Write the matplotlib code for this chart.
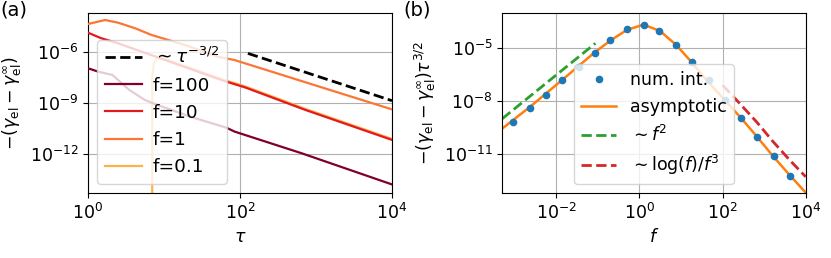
import matplotlib
matplotlib.use('Agg')
import matplotlib.pyplot as plt
import matplotlib.ticker as mticker
import numpy as np

plt.rcParams['font.size'] = 12.5

# ---------------------------------------------------------------------------
# panel (a): decay in tau for several f
tau_100 = [1.0, 1.37, 2.1, 3.5, 5.6, 7.2, 22, 66, 85, 650, 10000]
g_100 = [1.15e-7, 7.2e-8, 4.6e-8, 6.0e-9, 1.55e-9, 9.8e-10, 1.6e-10, 3.6e-11,
         2.1e-11, 1.1e-12, 1.6e-14]

tau_10 = [1.0, 1.48, 2.45, 11, 63, 117, 725, 10000]
g_10 = [1.45e-5, 6.9e-6, 3.5e-6, 3.2e-7, 2.0e-8, 8.5e-9, 4.0e-10, 6.8e-12]

tau_1 = [1.0, 1.68, 2.5, 4.2, 6.9, 19, 51, 85, 10000]
g_1 = [4.7e-5, 8.1e-5, 5.6e-5, 2.6e-5, 1.05e-5, 2.7e-6, 5.5e-7, 3.5e-7, 4.3e-10]

# f=0.1 is negative below tau ~ 7 (clipped on the log axis)
tau_01 = [1.0, 3.0, 6.8, 7.0, 7.3, 8.0, 11, 63, 117, 725, 10000]
g_01 = [-5e-6, -2e-6, -2e-8, 3.0e-8, 2.0e-7, 5.0e-7, 3.6e-7, 2.3e-8, 9.8e-9,
        4.6e-10, 7.8e-12]

tau_ref = [127, 10000]
g_ref = [8.7e-7, 1.4e-9]

# ---------------------------------------------------------------------------
# panel (b): prefactor vs f
f_num = [9.1e-4, 2.3e-3, 5.5e-3, 1.38e-2, 3.5e-2, 8.3e-2, 0.2, 0.51, 1.26, 3.0,
         7.6, 18.6, 47, 115, 275, 690, 1700, 4200]
y_num = [6.5e-10, 4.0e-9, 2.3e-8, 1.5e-7, 9.1e-7, 5.5e-6, 3.1e-5, 1.26e-4,
         2.2e-4, 9.1e-5, 1.55e-5, 1.6e-6, 1.55e-7, 1.2e-8, 1.15e-9, 9.1e-11,
         7.4e-12, 5.8e-13]

f_asy = [5e-4, 2.4e-3, 1.38e-2, 7.9e-2, 0.2, 0.5, 1.26, 3.16, 7.6, 16.6, 41.7,
         105, 275, 660, 1660, 4170, 10000]
y_asy = [2.75e-10, 5.0e-9, 1.58e-7, 5.2e-6, 2.75e-5, 1.1e-4, 2.2e-4, 9.3e-5,
         1.55e-5, 2.0e-6, 1.48e-7, 1.38e-8, 1.12e-9, 1.0e-10, 7.1e-12, 6.0e-13,
         6.3e-14]

f_small = [5e-4, 0.087]
y_small = [1.0e-9, 1.9e-5]

f_large = [100, 220, 660, 1660, 4170, 10000]
y_large = [7.9e-8, 1.1e-8, 6.5e-10, 4.8e-11, 4.3e-12, 5.0e-13]

# ---------------------------------------------------------------------------
W, H = 831, 258
fig = plt.figure(figsize=(W / 100, H / 100), dpi=100)
ax1 = fig.add_axes([88 / W, 1 - 193 / H, 304 / W, 180 / H])
ax2 = fig.add_axes([502.3 / W, 1 - 193 / H, 303.4 / W, 180 / H])

l_ref, = ax1.plot(tau_ref, g_ref, '--', color='black', lw=2)
l100, = ax1.plot(tau_100, g_100, color='#800026', lw=1.6, zorder=3)
l10, = ax1.plot(tau_10, g_10, color='#e31a1c', lw=1.6, zorder=3)
l1, = ax1.plot(tau_1, g_1, color='#fc7535', lw=1.6, zorder=3)
l01, = ax1.plot(tau_01, g_01, color='#feb24c', lw=1.6, zorder=2.5)
ax1.set_xscale('log')
ax1.set_yscale('log')
ax1.set_xlim(1, 1e4)
ax1.set_ylim(5e-15, 2.1e-4)
ax1.set_xticks([1, 1e2, 1e4])
ax1.set_yticks([1e-12, 1e-9, 1e-6])
ax1.xaxis.set_minor_locator(mticker.NullLocator())
ax1.yaxis.set_minor_locator(mticker.NullLocator())
ax1.grid(True)
ax1.set_xlabel(r'$\tau$')
ax1.set_ylabel(r'$-(\gamma_{\rm el}-\gamma_{\rm el}^{\infty})$')
ax1.legend([l_ref, l100, l10, l1, l01],
           [r'$\sim\tau^{-3/2}$', 'f=100', 'f=10', 'f=1', 'f=0.1'],
           loc='lower left', fontsize=13.3, handletextpad=0.6)

ax2.plot(f_num, y_num, 'o', color='C0', ms=4.5, label='num. int.', zorder=3)
ax2.plot(f_asy, y_asy, '-', color='C1', lw=1.8, label='asymptotic', zorder=2)
ax2.plot(f_small, y_small, '--', color='C2', lw=2, label=r'$\sim f^2$')
ax2.plot(f_large, y_large, '--', color='C3', lw=2, label=r'$\sim\log(f)/f^3$')
ax2.set_xscale('log')
ax2.set_yscale('log')
ax2.set_xlim(5e-4, 1e4)
ax2.set_ylim(6e-14, 1e-3)
ax2.set_xticks([1e-2, 1, 1e2, 1e4])
ax2.set_yticks([1e-11, 1e-8, 1e-5])
ax2.xaxis.set_minor_locator(mticker.NullLocator())
ax2.yaxis.set_minor_locator(mticker.NullLocator())
ax2.grid(True)
ax2.set_xlabel(r'$f$')
ax2.set_ylabel(r'$-(\gamma_{\rm el}-\gamma_{\rm el}^{\infty})\tau^{3/2}$')
ax2.legend(loc='lower center')

fig.text(0.0, 1 - 1 / H, '(a)', va='top', ha='left', fontsize=14)
fig.text(403 / W, 1 - 1 / H, '(b)', va='top', ha='left', fontsize=14)

fig.savefig('out.png', dpi=100)
